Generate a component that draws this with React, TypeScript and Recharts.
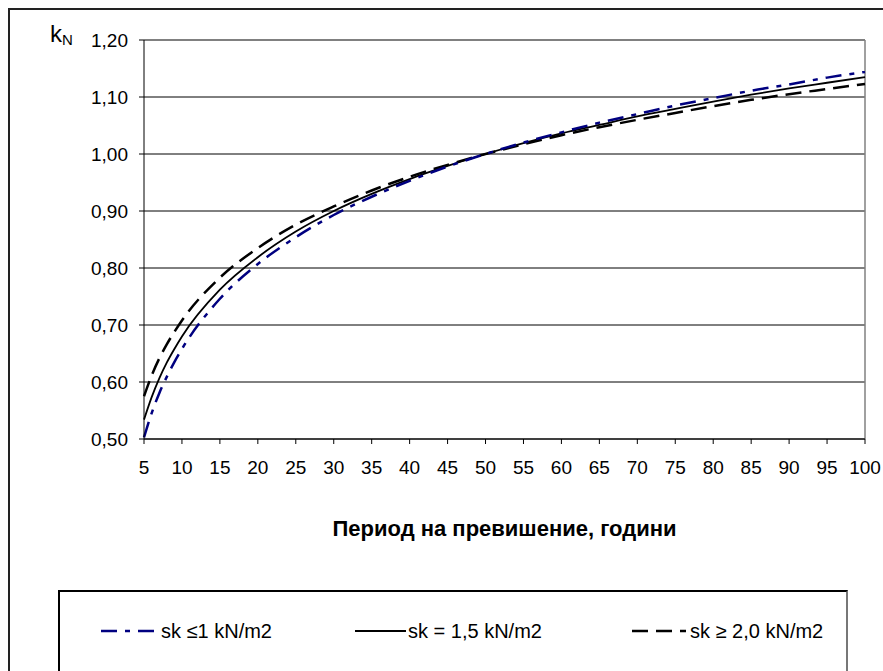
import React from "react";
import {
  CartesianGrid,
  Line,
  LineChart,
  ReferenceLine,
  XAxis,
  YAxis,
} from "recharts";

// return period, years
const years = [5, 6, 7, 8, 9, 10, 15, 20, 25, 30, 35, 40, 45, 50, 55, 60, 65, 70, 75, 80, 85, 90, 95, 100];

// kN for sk <= 1 kN/m2
const kLow = [0.503, 0.545, 0.58, 0.609, 0.635, 0.658, 0.746, 0.807, 0.854, 0.893, 0.925, 0.953, 0.978, 1.0, 1.02, 1.038, 1.055, 1.07, 1.085, 1.098, 1.111, 1.122, 1.134, 1.144];
// kN for sk = 1,5 kN/m2
const kMid = [0.534, 0.573, 0.606, 0.634, 0.658, 0.68, 0.762, 0.819, 0.864, 0.9, 0.93, 0.956, 0.979, 1.0, 1.019, 1.036, 1.051, 1.066, 1.079, 1.092, 1.104, 1.115, 1.125, 1.135];
// kN for sk >= 2,0 kN/m2
const kHigh = [0.575, 0.611, 0.641, 0.666, 0.688, 0.708, 0.783, 0.835, 0.876, 0.908, 0.936, 0.96, 0.981, 1.0, 1.017, 1.033, 1.047, 1.06, 1.072, 1.084, 1.095, 1.105, 1.114, 1.123];

const xTicks = [5, 10, 15, 20, 25, 30, 35, 40, 45, 50, 55, 60, 65, 70, 75, 80, 85, 90, 95, 100];
const yTicks = [0.5, 0.6, 0.7, 0.8, 0.9, 1.0, 1.1, 1.2];

const labels = ["sk ≤1 kN/m2", "sk = 1,5 kN/m2", "sk ≥ 2,0 kN/m2"];

const data = years.map((n, i) => ({
  n,
  low: kLow[i],
  mid: kMid[i],
  high: kHigh[i],
}));

const FONT = "'Liberation Sans', Arial, sans-serif";
const NAVY = "#000080";

const fmt = (v: number) => v.toFixed(2).replace(".", ",");

function LegendBox() {
  const items = [
    { x: 101, w: 56, tx: 161, stroke: NAVY, dash: "16 8 5 8", width: 2.5 },
    { x: 355, w: 51, tx: 408, stroke: "#000", dash: undefined, width: 1.8 },
    { x: 632, w: 54, tx: 690, stroke: "#000", dash: "16 8", width: 2.5 },
  ];
  return (
    <div
      style={{
        position: "absolute",
        left: 58,
        top: 590,
        width: 786,
        height: 120,
        borderTop: "2px solid #000",
        borderLeft: "2px solid #000",
        borderRight: "2px solid #777",
      }}
    >
      <svg width={786} height={80} style={{ position: "absolute", left: -2, top: -2 }}>
        {items.map((it, i) => (
          <g key={i}>
            <line
              x1={it.x - 58}
              x2={it.x - 58 + it.w}
              y1={41}
              y2={41}
              stroke={it.stroke}
              strokeWidth={it.width}
              strokeDasharray={it.dash}
            />
            <text
              x={it.tx - 58}
              y={41}
              dy="0.35em"
              fontFamily={FONT}
              fontSize={20}
              fill="#000"
            >
              {labels[i]}
            </text>
          </g>
        ))}
      </svg>
    </div>
  );
}

export default function App() {
  return (
    <div
      style={{
        position: "relative",
        width: 883,
        height: 671,
        overflow: "hidden",
        background: "#fff",
        fontFamily: FONT,
      }}
    >
      <style>{`body{margin:0}`}</style>
      <div
        style={{
          position: "absolute",
          left: 8,
          top: 8,
          width: 900,
          height: 700,
          borderTop: "2px solid #222",
          borderLeft: "2px solid #222",
        }}
      />
      <LineChart
        width={883}
        height={671}
        data={data}
        margin={{ top: 40, right: 18, bottom: 192, left: 0 }}
        style={{ position: "absolute", left: 0, top: 0 }}
      >
        <CartesianGrid horizontal vertical={false} stroke="#000" strokeWidth={1} />
        <ReferenceLine y={1.2} stroke="#808080" strokeWidth={1.5} />
        <ReferenceLine x={100} stroke="#808080" strokeWidth={1.5} />
        <XAxis
          dataKey="n"
          type="number"
          domain={[5, 100]}
          ticks={xTicks}
          interval={0}
          height={40}
          stroke="#000"
          tickSize={5}
          tickMargin={17}
          tick={{ fill: "#000", fontSize: 19, fontFamily: FONT }}
        />
        <YAxis
          type="number"
          domain={[0.5, 1.2]}
          ticks={yTicks}
          width={144}
          stroke="#000"
          tickSize={5}
          tickMargin={11}
          tickFormatter={fmt}
          tick={{ fill: "#000", fontSize: 19, fontFamily: FONT }}
        />
        <Line
          dataKey="high"
          type="monotone"
          stroke="#000"
          strokeWidth={2.5}
          strokeDasharray="16 8"
          dot={false}
          isAnimationActive={false}
        />
        <Line
          dataKey="mid"
          type="monotone"
          stroke="#000"
          strokeWidth={1.8}
          dot={false}
          isAnimationActive={false}
        />
        <Line
          dataKey="low"
          type="monotone"
          stroke={NAVY}
          strokeWidth={2.5}
          strokeDasharray="16 8 5 8"
          dot={false}
          isAnimationActive={false}
        />
      </LineChart>
      <div
        style={{
          position: "absolute",
          left: 50,
          top: 22,
          fontSize: 24,
          color: "#000",
          lineHeight: 1,
        }}
      >
        k<sub style={{ fontSize: 15, verticalAlign: -3 }}>N</sub>
      </div>
      <div
        style={{
          position: "absolute",
          left: 144,
          width: 721,
          top: 516,
          textAlign: "center",
          fontSize: 22,
          fontWeight: "bold",
          color: "#000",
        }}
      >
        Период на превишение, години
      </div>
      <LegendBox />
    </div>
  );
}
